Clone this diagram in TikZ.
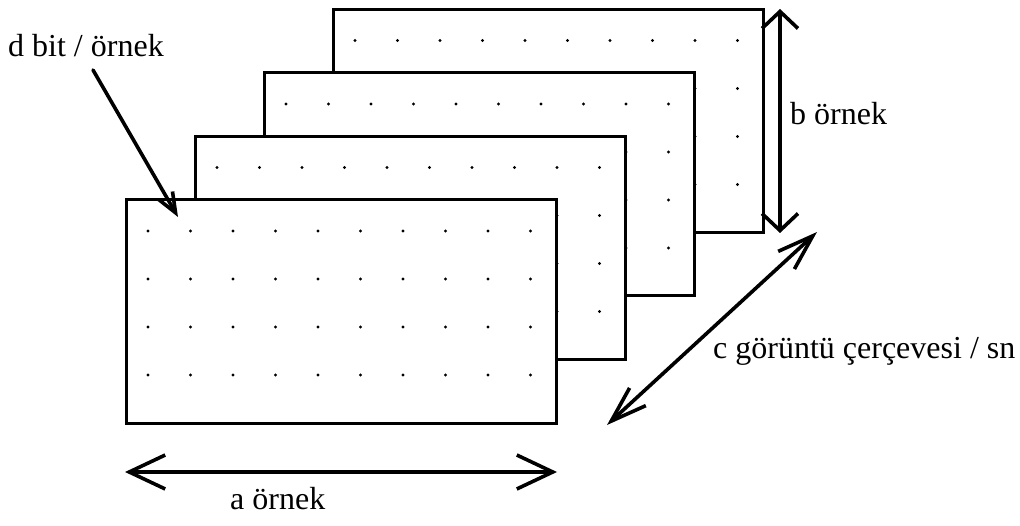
\documentclass[tikz,border=0pt]{standalone}
\usepackage{fontspec}
\setmainfont{Liberation Serif}
\usetikzlibrary{arrows.meta}
\begin{document}
\begin{tikzpicture}[x=1pt,y=-1pt,
  frame/.style={draw=black,line width=3pt,fill=white,line join=miter},
  dimarrow/.style={line width=3.6pt,line cap=round,line join=round},
  lbl/.style={font=\fontsize{32}{35}\selectfont,inner sep=0pt,anchor=base west}]
\useasboundingbox (0,0) rectangle (1020,526);
\foreach \k in {3,2,1,0} {
  \pgfmathsetmacro\fx{126+69*\k}
  \pgfmathsetmacro\fy{200-63.5*\k}
  \draw[frame] (\fx,\fy) rectangle ++(430,223);
  \foreach \i in {0,...,3} {
    \foreach \j in {0,...,9} {
      \fill (\fx+22+42.5*\j,\fy+31+48*\i) circle (1.7pt);
    }
  }
}
% labels
\node[lbl] (d) at (8,57) {d bit / örnek};
\node[lbl] (b) at (790,125) {b örnek};
\node[lbl] (c) at (713,359) {c görüntü çerçevesi / sn};
\node[lbl] (a) at (230,509) {a örnek};
% arrow end points
\coordinate (aL) at (125,472);
\coordinate (aR) at (557,472);
\coordinate (bT) at (780,9);
\coordinate (bB) at (780,233);
\coordinate (cL) at (607,425);
\coordinate (cU) at (817,232);
\coordinate (dS) at (93,70);
\coordinate (dT) at (178,217);
\draw[dimarrow,{Straight Barb[length=36pt,width=34pt]}-{Straight Barb[length=36pt,width=34pt]}] (aL) -- (aR);
\draw[dimarrow,{Straight Barb[length=17pt,width=36pt]}-{Straight Barb[length=17pt,width=36pt]}] (bT) -- (bB);
\draw[dimarrow,{Straight Barb[length=36pt,width=24pt]}-{Straight Barb[length=36pt,width=24pt]}] (cL) -- (cU);
\draw[dimarrow,-{Straight Barb[length=20pt,width=16pt]}] (dS) -- (dT);
\end{tikzpicture}
\end{document}
